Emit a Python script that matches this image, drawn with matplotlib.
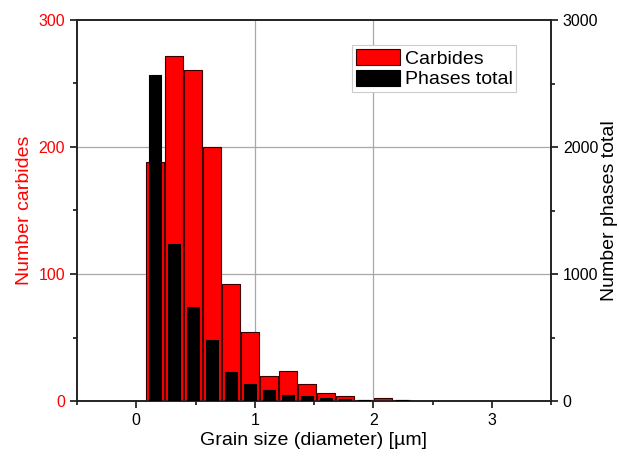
import numpy as np
import matplotlib.pyplot as plt
from matplotlib.ticker import MultipleLocator

plt.rcParams['font.family'] = ['Liberation Sans', 'DejaVu Sans']

# bin centres (grain diameter, µm)
diam = [0.16, 0.32, 0.48, 0.64, 0.80, 0.96, 1.12, 1.28, 1.44, 1.60, 1.76, 1.92, 2.08, 2.24]
# counts
carbides = [188, 272, 261, 200, 92, 54, 20, 24, 13, 6, 4, 0.5, 2.4, 0.5]
phases = [2570, 1237, 737, 482, 229, 137, 89, 47, 39, 21, 13, 5, 3, 5]

red = '#ff0000'

fig = plt.figure(figsize=(6.19, 4.61), dpi=100)
ax = fig.add_axes([77/619, 60/461, 474/619, 381/461])
ax2 = ax.twinx()

b1 = ax.bar(diam, carbides, width=0.155, color=red, edgecolor='#3a0000',
            linewidth=0.8, label='Carbides', zorder=3)
b2 = ax2.bar(diam, phases, width=0.1, color='black', edgecolor='black',
             linewidth=0.8, label='Phases total', zorder=3)

ax.set_xlim(-0.5, 3.5)
ax.set_ylim(0, 300)
ax2.set_ylim(0, 3000)

ax.xaxis.set_major_locator(MultipleLocator(1))
ax.xaxis.set_minor_locator(MultipleLocator(0.5))
ax.yaxis.set_major_locator(MultipleLocator(100))
ax.yaxis.set_minor_locator(MultipleLocator(50))
ax2.yaxis.set_major_locator(MultipleLocator(1000))
ax2.yaxis.set_minor_locator(MultipleLocator(500))

ax.grid(True, which='major', color='#a8a8a8', linewidth=0.9, zorder=0)
ax.set_axisbelow(True)
fig.canvas.draw()
# only the inner grid lines are shown, as in the original
for loc, gl in zip(ax.get_xticks(), ax.get_xgridlines()):
    gl.set_visible(loc in (1, 2))
for loc, gl in zip(ax.get_yticks(), ax.get_ygridlines()):
    gl.set_visible(loc in (100, 200))

ax.tick_params(axis='both', which='major', direction='out', length=5, width=1.1, labelsize=11.5)
ax.tick_params(axis='both', which='minor', direction='out', length=3, width=1.1)
ax.tick_params(axis='y', which='both', labelcolor=red)
ax2.tick_params(axis='y', which='major', direction='out', length=5, width=1.1, labelsize=11.5)
ax2.tick_params(axis='y', which='minor', direction='out', length=3, width=1.1)

for a in (ax, ax2):
    for s in a.spines.values():
        s.set_linewidth(1.2)
        s.set_color('#222222')

ax.set_xlabel('Grain size (diameter) [µm]', fontsize=14, labelpad=3)
ax.set_ylabel('Number carbides', fontsize=14, color=red, labelpad=4)
ax2.set_ylabel('Number phases total', fontsize=14, labelpad=2)

leg = ax2.legend(handles=[b1, b2], loc='upper left',
                 bbox_to_anchor=(352/619, 1 - 45/461), bbox_transform=fig.transFigure,
                 fontsize=14, frameon=True, fancybox=False, framealpha=1,
                 handlelength=2.25, handleheight=0.9, handletextpad=0.25,
                 labelspacing=0.1, borderpad=0.2, borderaxespad=0)
leg.get_frame().set_edgecolor('#cccccc')
leg.get_frame().set_linewidth(0.8)

fig.savefig('out.png', dpi=100)
